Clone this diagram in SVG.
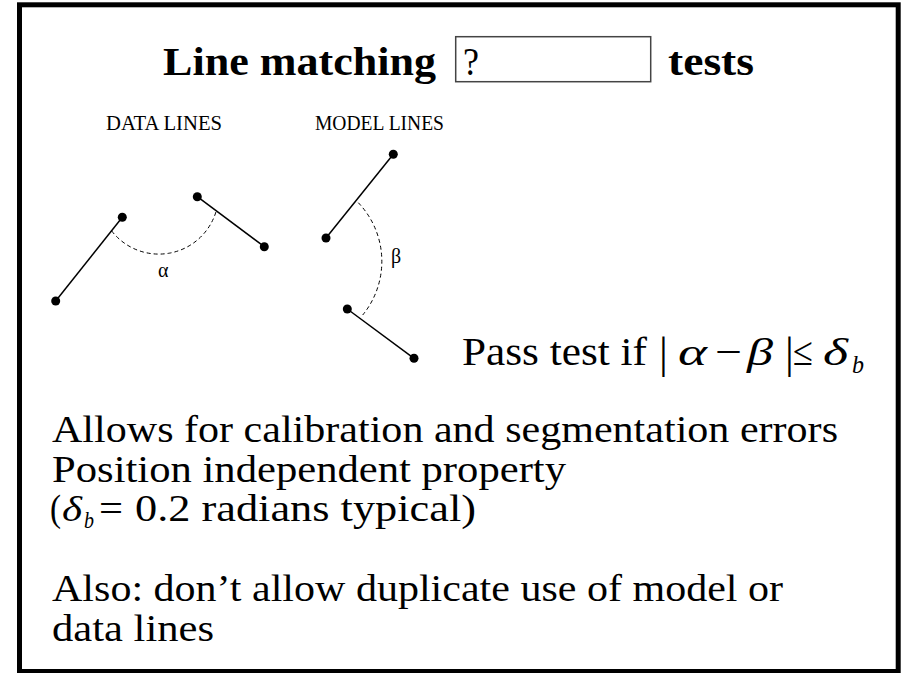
<svg xmlns="http://www.w3.org/2000/svg" width="903" height="673" viewBox="0 0 903 673">
<style>
.frame{fill:#fff;stroke:#000;stroke-width:5}
.t{font-family:"Liberation Serif","Times New Roman",serif;fill:#000}
.b{font-weight:bold}
.seg{stroke:#000;stroke-width:1.5;fill:none}
.dot{fill:#000}
.arc{stroke:#000;stroke-width:1;fill:none;stroke-dasharray:4 3}
.it{font-style:italic}
</style>
<rect class="frame" x="19.5" y="4.8" width="878.7" height="666.7"/>
<g id="title">
<text class="t b" x="163" y="74.5" font-size="39" textLength="273" lengthAdjust="spacingAndGlyphs">Line matching</text>
<rect x="455.7" y="36.7" width="195" height="45" fill="#fff" stroke="#444" stroke-width="1.5"/>
<text class="t" x="463" y="74.5" font-size="40" textLength="16" lengthAdjust="spacingAndGlyphs">?</text>
<text class="t b" x="668" y="74.5" font-size="39" textLength="86" lengthAdjust="spacingAndGlyphs">tests</text>
</g>
<g id="data-lines">
<text class="t" x="106" y="130" font-size="20" textLength="116" lengthAdjust="spacingAndGlyphs">DATA LINES</text>
<line class="seg" x1="55.7" y1="301" x2="122.3" y2="217.3"/>
<circle class="dot" cx="55.7" cy="301" r="4.5"/>
<circle class="dot" cx="122.3" cy="217.3" r="4.5"/>
<line class="seg" x1="197.3" y1="196.7" x2="264.3" y2="246.7"/>
<circle class="dot" cx="197.3" cy="196.7" r="4.5"/>
<circle class="dot" cx="264.3" cy="246.7" r="4.5"/>
<path class="arc" d="M111.7,231 A59.7,59.7 0 0 0 216,211.7"/>
<text class="t" x="158" y="277" font-size="20">α</text>
</g>
<g id="model-lines">
<text class="t" x="315" y="130" font-size="20" textLength="129" lengthAdjust="spacingAndGlyphs">MODEL LINES</text>
<line class="seg" x1="393.3" y1="154.3" x2="326" y2="238"/>
<circle class="dot" cx="393.3" cy="154.3" r="4.5"/>
<circle class="dot" cx="326" cy="238" r="4.5"/>
<line class="seg" x1="347.3" y1="309" x2="414" y2="358.3"/>
<circle class="dot" cx="347.3" cy="309" r="4.5"/>
<circle class="dot" cx="414" cy="358.3" r="4.5"/>
<path class="arc" d="M358.3,202.7 A84.8,84.8 0 0 1 362.7,315"/>
<text class="t" x="391" y="263" font-size="20">β</text>
</g>
<g id="pass-test">
<text class="t" x="462" y="365" font-size="40" textLength="185" lengthAdjust="spacingAndGlyphs">Pass test if</text>
<text class="t" x="659" y="368" font-size="44">|</text>
<text class="t it" x="678" y="365" font-size="38" textLength="29" lengthAdjust="spacingAndGlyphs">α</text>
<text class="t" x="715" y="365" font-size="40" textLength="27" lengthAdjust="spacingAndGlyphs">−</text>
<text class="t it" x="747" y="365" font-size="38" textLength="26" lengthAdjust="spacingAndGlyphs">β</text>
<text class="t" x="785" y="368" font-size="44">|</text>
<text class="t" x="793" y="365" font-size="40" textLength="20" lengthAdjust="spacingAndGlyphs">≤</text>
<text class="t it" x="823" y="365" font-size="38" textLength="25" lengthAdjust="spacingAndGlyphs">δ</text>
<text class="t it" x="852" y="373" font-size="26" textLength="12" lengthAdjust="spacingAndGlyphs">b</text>
</g>
<g id="notes">
<text class="t" x="52" y="442" font-size="38" textLength="786" lengthAdjust="spacingAndGlyphs">Allows for calibration and segmentation errors</text>
<text class="t" x="52" y="481.5" font-size="38" textLength="514" lengthAdjust="spacingAndGlyphs">Position independent property</text>
<text class="t" x="50" y="521" font-size="38" textLength="11" lengthAdjust="spacingAndGlyphs">(</text>
<text class="t it" x="62" y="521" font-size="36" textLength="20" lengthAdjust="spacingAndGlyphs">δ</text>
<text class="t it" x="84" y="528" font-size="24" textLength="10" lengthAdjust="spacingAndGlyphs">b</text>
<text class="t" x="99" y="521" font-size="38" textLength="24" lengthAdjust="spacingAndGlyphs">=</text>
<text class="t" x="135" y="521" font-size="38" textLength="341" lengthAdjust="spacingAndGlyphs">0.2 radians typical)</text>
<text class="t" x="52" y="601" font-size="38" textLength="731" lengthAdjust="spacingAndGlyphs">Also: don’t allow duplicate use of model or</text>
<text class="t" x="52" y="641" font-size="38" textLength="162" lengthAdjust="spacingAndGlyphs">data lines</text>
</g>
</svg>
